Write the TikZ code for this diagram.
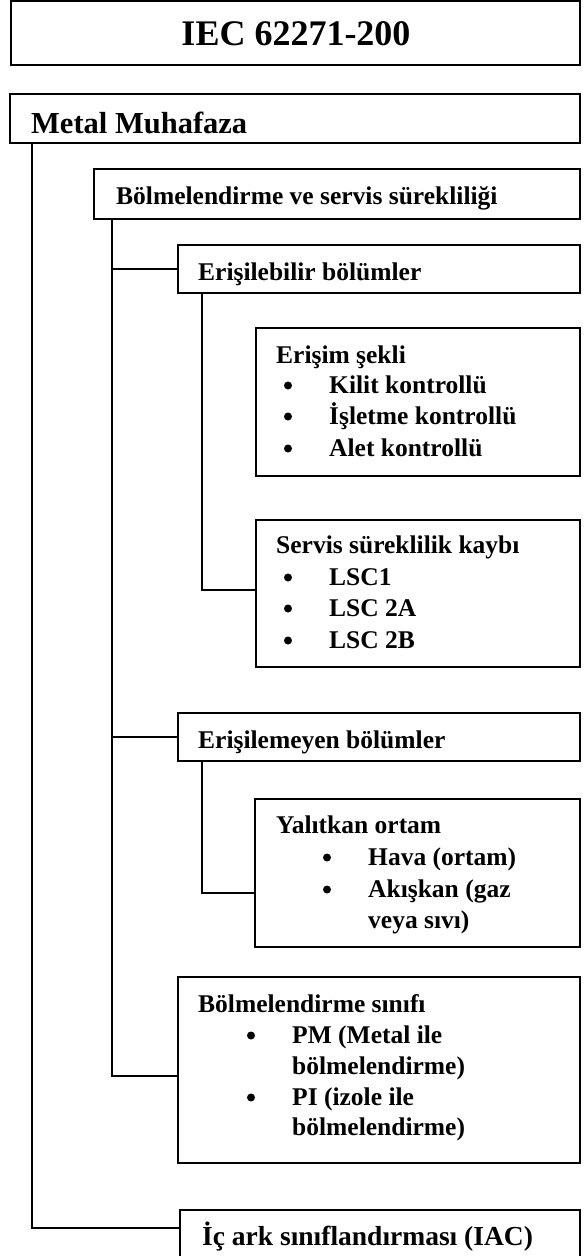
\documentclass[tikz,border=0pt]{standalone}
\usepackage{fontspec}
\setmainfont{Liberation Serif}
\begin{document}
\begin{tikzpicture}[x=1pt,y=-1pt,
  box/.style={draw=black,line width=1.3pt,rectangle,inner sep=0pt,outer sep=0pt,anchor=north west},
  conn/.style={draw=black,line width=1.7pt},
  txt/.style={anchor=base west,inner sep=0pt,font=\fontsize{25.5}{31}\selectfont\bfseries},
  bul/.style={circle,fill=black,inner sep=0pt,minimum size=8pt}]
\useasboundingbox (0,0) rectangle (585,1256);
\clip (0,0) rectangle (585,1256);
% boxes
\node[box,minimum width=569pt,minimum height=64pt] (iec) at (11,1) {};
\node[box,minimum width=570pt,minimum height=49pt] (metal) at (10,94) {};
\node[box,minimum width=486pt,minimum height=50pt] (bolm) at (94,169) {};
\node[box,minimum width=402pt,minimum height=48pt] (erisil) at (178,245) {};
\node[box,minimum width=324pt,minimum height=148pt] (erisim) at (256,328) {};
\node[box,minimum width=324pt,minimum height=147pt] (servis) at (256,520) {};
\node[box,minimum width=402pt,minimum height=48pt] (erisilm) at (178,713) {};
\node[box,minimum width=325pt,minimum height=148pt] (yalitkan) at (255,799) {};
\node[box,minimum width=402pt,minimum height=186pt] (bsinif) at (178,977) {};
\node[box,minimum width=400pt,minimum height=60pt] (icark) at (180,1210) {};
% texts
\node[anchor=base,inner sep=0pt,font=\fontsize{36}{40}\selectfont\bfseries] (tiec) at (296,45) {IEC 62271-200};
\node[txt,font=\fontsize{30.5}{34}\selectfont\bfseries] (tmetal) at (31,133) {Metal Muhafaza};
\node[txt] (tbolm) at (116,204) {Bölmelendirme ve servis sürekliliği};
\node[txt] (terisil) at (198,280) {Erişilebilir bölümler};
\node[txt] (terisim) at (276,363) {Erişim şekli};
\node[txt] (te1) at (329,393) {Kilit kontrollü};
\node[txt] (te2) at (329,424) {İşletme kontrollü};
\node[txt] (te3) at (329,456) {Alet kontrollü};
\node[bul] (be1) at (288,385.5) {};
\node[bul] (be2) at (288,416.5) {};
\node[bul] (be3) at (288,448.5) {};
\node[txt] (tservis) at (276,553) {Servis süreklilik kaybı};
\node[txt] (ts1) at (329,585) {LSC1};
\node[txt] (ts2) at (329,616) {LSC 2A};
\node[txt] (ts3) at (329,648) {LSC 2B};
\node[bul] (bs1) at (288,577.5) {};
\node[bul] (bs2) at (288,608.5) {};
\node[bul] (bs3) at (288,640.5) {};
\node[txt] (terisilm) at (198,748) {Erişilemeyen bölümler};
\node[txt] (tyal) at (276,833) {Yalıtkan ortam};
\node[txt] (ty1) at (368,865) {Hava (ortam)};
\node[txt] (ty2) at (368,897) {Akışkan (gaz};
\node[txt] (ty3) at (368,928) {veya sıvı)};
\node[bul] (by1) at (327,857.5) {};
\node[bul] (by2) at (327,889.5) {};
\node[txt] (tbs) at (198,1012) {Bölmelendirme sınıfı};
\node[txt] (tb1) at (292,1043) {PM (Metal ile};
\node[txt] (tb2) at (292,1074) {bölmelendirme)};
\node[txt] (tb3) at (292,1105) {PI (izole ile};
\node[txt] (tb4) at (292,1135) {bölmelendirme)};
\node[bul] (bb1) at (251,1035.5) {};
\node[bul] (bb2) at (251,1097.5) {};
\node[txt,font=\fontsize{27.5}{31}\selectfont\bfseries] (ticark) at (202,1245) {İç ark sınıflandırması (IAC)};
% connectors
\draw[conn] ([xshift=22pt]metal.south west) |- ([yshift=-18pt]icark.north west);
\draw[conn] ([xshift=18pt]bolm.south west) |- ([yshift=-99pt]bsinif.north west);
\draw[conn] ([xshift=18pt]bolm.south west) |- (erisil.west);
\draw[conn] ([xshift=18pt]bolm.south west) |- (erisilm.west);
\draw[conn] ([xshift=24pt]erisil.south west) |- ([yshift=-70pt]servis.north west);
\draw[conn] ([xshift=24pt]erisilm.south west) |- ([yshift=-94pt]yalitkan.north west);
\end{tikzpicture}
\end{document}
